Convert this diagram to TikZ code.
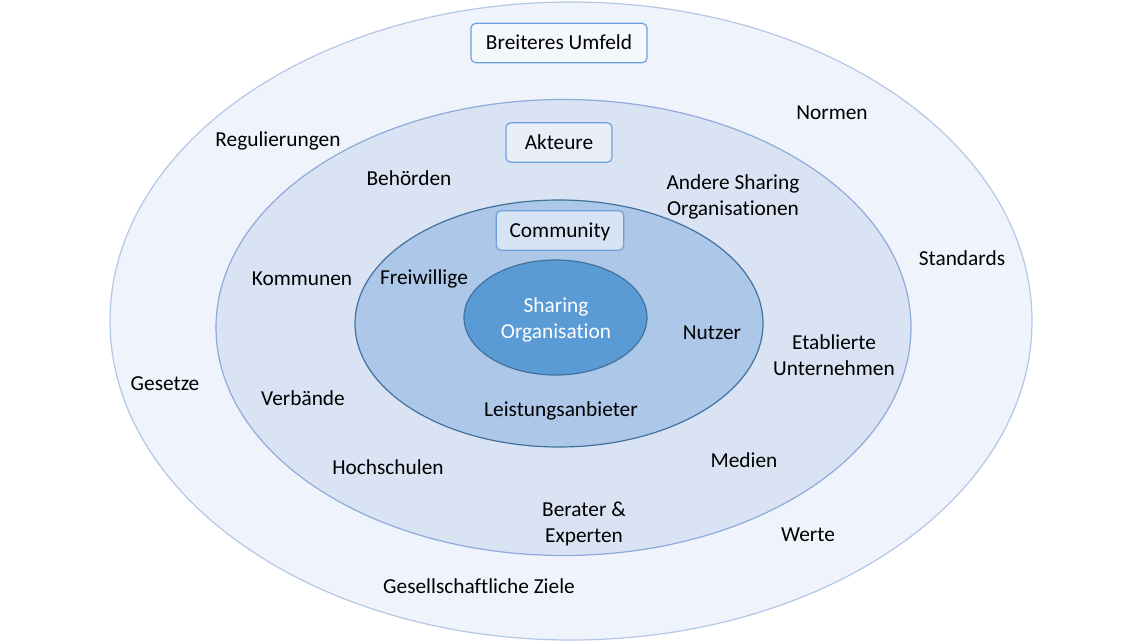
\documentclass[tikz,border=0pt]{standalone}
\usepackage{fontspec}
\setmainfont{Carlito}[Ligatures=NoCommon]
\begin{document}
\begin{tikzpicture}[x=0.75pt,y=-0.75pt,
  ring/.style={line width=0.9pt},
  base/.style={font=\fontsize{16}{19.5}\selectfont, text=black, align=center, inner sep=0pt},
  lbl/.style={base, text height=1.02em, text depth=0pt},
  ml/.style={base, yshift=-1.5pt},
  tagbox/.style={lbl, draw=boxline, rounded corners=3.5pt, line width=0.9pt, minimum height=29.5pt, inner xsep=10pt}
]
\definecolor{outerfill}{HTML}{EFF3FB}
\definecolor{outerline}{HTML}{B4C7E7}
\definecolor{midfill}{HTML}{DAE3F3}
\definecolor{midline}{HTML}{8FAADC}
\definecolor{innerfill}{HTML}{ADC7E8}
\definecolor{innerline}{HTML}{41719C}
\definecolor{corefill}{HTML}{5B9BD5}
\definecolor{coreline}{HTML}{41719C}
\definecolor{boxline}{HTML}{6FA1D9}
\useasboundingbox (0,0) rectangle (1140,642);
\fill[white] (0,0) rectangle (1140,642);
% rings
\path[ring, fill=outerfill, draw=outerline] (571,321) ellipse [x radius=461, y radius=319];
\path[ring, fill=midfill, draw=midline] (563.5,327.5) ellipse [x radius=347.5, y radius=228];
\path[ring, fill=innerfill, draw=innerline] (559,323.5) ellipse [x radius=204, y radius=123.5];
\path[ring, fill=corefill, draw=coreline] (555.5,317.5) ellipse [x radius=91.5, y radius=57.5];
% tag boxes
\node[tagbox, fill=outerfill!70!white, minimum width=132pt] (umfeld) at (559,43) {Breiteres Umfeld};
\node[tagbox, fill=midfill!60!white, minimum width=79.5pt] (akteure) at (559,142.5) {Akteure};
\node[tagbox, fill=innerfill!50!white, minimum width=94.5pt] (community) at (560,230.5) {Community};
% core
\node[ml, text=white] (sharing) at (556,318) {Sharing\\Organisation};
% outer ring labels
\node[lbl] (normen) at (832,113) {Normen};
\node[lbl] (regul) at (278,140) {Regulierungen};
\node[lbl] (standards) at (962,259) {Standards};
\node[lbl] (gesetze) at (165,384) {Gesetze};
\node[lbl] (werte) at (808,535) {Werte};
\node[lbl] (ziele) at (479,587) {Gesellschaftliche Ziele};
% middle ring labels
\node[lbl] (behoerden) at (409,179) {Behörden};
\node[ml] (andere) at (733,194.5) {Andere Sharing\\Organisationen};
\node[lbl] (kommunen) at (302,279) {Kommunen};
\node[ml] (etabliert) at (834,353) {Etablierte\\Unternehmen};
\node[lbl] (verbaende) at (303,399) {Verbände};
\node[lbl] (hochschulen) at (388,468) {Hochschulen};
\node[lbl] (medien) at (744,461) {Medien};
\node[ml] (berater) at (584,522) {Berater \&\\Experten};
% inner ring labels
\node[lbl] (freiwillige) at (424,278) {Freiwillige};
\node[lbl] (nutzer) at (712,333) {Nutzer};
\node[lbl] (leistung) at (561,410) {Leistungsanbieter};
\end{tikzpicture}
\end{document}
